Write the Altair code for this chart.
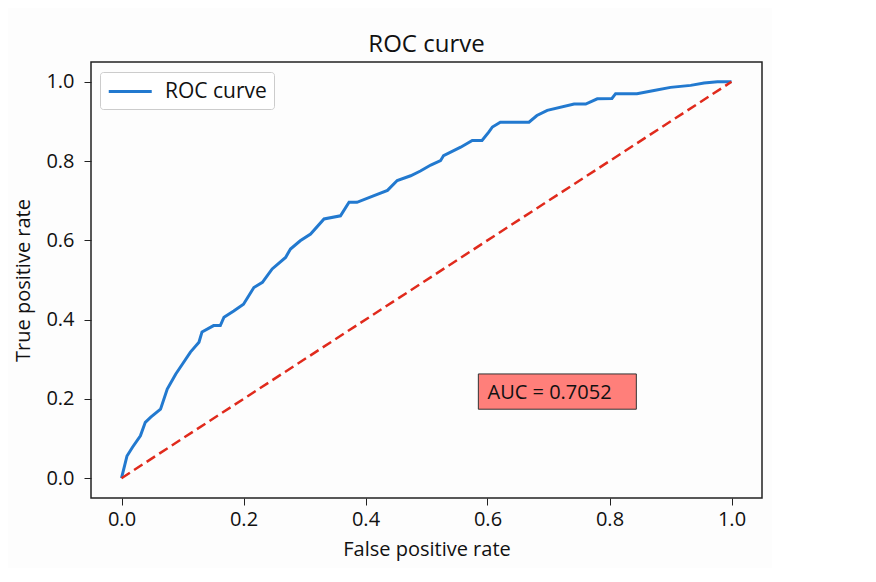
import altair as alt
import pandas as pd

# ROC curve points
fpr = [0, 0.009, 0.018, 0.031, 0.039, 0.048, 0.064, 0.075, 0.089, 0.100,
       0.113, 0.127, 0.132, 0.151, 0.162, 0.168, 0.184, 0.200, 0.217, 0.231,
       0.247, 0.269, 0.277, 0.293, 0.310, 0.332, 0.359, 0.373, 0.386, 0.414,
       0.436, 0.452, 0.474, 0.490, 0.507, 0.523, 0.528, 0.556, 0.575, 0.591,
       0.602, 0.608, 0.621, 0.668, 0.681, 0.698, 0.742, 0.761, 0.780, 0.804,
       0.810, 0.845, 0.873, 0.900, 0.933, 0.955, 0.977, 1.0]
tpr = [0, 0.056, 0.078, 0.107, 0.141, 0.154, 0.174, 0.225, 0.263, 0.288,
       0.318, 0.343, 0.369, 0.385, 0.385, 0.406, 0.422, 0.439, 0.481, 0.494,
       0.528, 0.557, 0.578, 0.599, 0.616, 0.654, 0.662, 0.696, 0.696, 0.713,
       0.726, 0.751, 0.763, 0.775, 0.790, 0.801, 0.814, 0.835, 0.852, 0.852,
       0.873, 0.886, 0.898, 0.898, 0.915, 0.928, 0.944, 0.944, 0.957, 0.958,
       0.970, 0.970, 0.978, 0.986, 0.991, 0.997, 1.0, 1.0]
series_name = "ROC curve"

diag_x = [0.0, 1.0]
diag_y = [0.0, 1.0]

auc_label = "AUC = 0.7052"
auc_pos = [0.6, 0.2]
auc_box_x = [0.585, 0.844]
auc_box_y = [0.174, 0.263]

tick_values = [0.0, 0.2, 0.4, 0.6, 0.8, 1.0]

FONT = "Open Sans"
BLUE = "#2279cf"
RED = "#e02a1c"

roc_df = pd.DataFrame({"fpr": fpr, "tpr": tpr, "order": list(range(len(fpr))),
                       "series": [series_name] * len(fpr)})
diag_df = pd.DataFrame({"fpr": diag_x, "tpr": diag_y})
box_df = pd.DataFrame({"x": [auc_box_x[0]], "x2": [auc_box_x[1]],
                       "y": [auc_box_y[0]], "y2": [auc_box_y[1]]})
txt_df = pd.DataFrame({"x": [auc_pos[0]], "y": [auc_pos[1]], "t": [auc_label]})

xscale = alt.Scale(domain=[-0.05, 1.05], nice=False, zero=False)
yscale = alt.Scale(domain=[-0.05, 1.05], nice=False, zero=False)

xaxis = alt.Axis(title="False positive rate", values=tick_values, format=".1f",
                 grid=False, domain=False, tickSize=7, tickColor="#222",
                 labelFontSize=20, labelFont=FONT, labelColor="#111",
                 labelPadding=4, titleFontSize=20, titleFont=FONT,
                 titleFontWeight="normal", titleColor="#111", titlePadding=10)
yaxis = alt.Axis(title="True positive rate", values=tick_values, format=".1f",
                 grid=False, domain=False, tickSize=7, tickColor="#222",
                 labelFontSize=20, labelFont=FONT, labelColor="#111",
                 labelPadding=10, titleFontSize=20, titleFont=FONT,
                 titleFontWeight="normal", titleColor="#111", titlePadding=12)

roc = alt.Chart(roc_df).mark_line(strokeWidth=3).encode(
    x=alt.X("fpr:Q", scale=xscale, axis=xaxis),
    y=alt.Y("tpr:Q", scale=yscale, axis=yaxis),
    order="order:Q",
    color=alt.Color("series:N",
                    scale=alt.Scale(domain=[series_name], range=[BLUE]),
                    legend=alt.Legend(title=None, orient="none", legendX=9, legendY=10,
                                      symbolType="M-1,0L3,0", symbolStrokeWidth=3,
                                      symbolSize=462, labelFontSize=21, labelFont=FONT,
                                      labelColor="#111", labelOffset=33,
                                      padding=7, strokeColor="#cccccc",
                                      fillColor="white", cornerRadius=3)),
)

diag = alt.Chart(diag_df).mark_line(strokeWidth=2.5, strokeDash=[10, 5], color=RED).encode(
    x=alt.X("fpr:Q", scale=xscale),
    y=alt.Y("tpr:Q", scale=yscale),
)

box = alt.Chart(box_df).mark_rect(fill="#ff7f7a", stroke="#333", strokeWidth=1).encode(
    x=alt.X("x:Q", scale=xscale), x2="x2:Q",
    y=alt.Y("y:Q", scale=yscale), y2="y2:Q",
)

txt = alt.Chart(txt_df).mark_text(align="left", baseline="alphabetic", fontSize=20,
                                  font=FONT, color="#111").encode(
    x=alt.X("x:Q", scale=xscale),
    y=alt.Y("y:Q", scale=yscale),
    text="t:N",
)

chart = alt.layer(roc, diag, box, txt).properties(
    width=671, height=436,
    title=alt.Title("ROC curve", fontSize=24, font=FONT, fontWeight="normal",
                    color="#111", anchor="middle", offset=5),
    autosize=alt.AutoSizeParams(type="none"),
    padding={"left": 83, "top": 54, "right": 10, "bottom": 70},
).configure(
    background="#fdfdfd",
    view=alt.ViewConfig(stroke="#222", strokeWidth=1.5),
)

chart.save("out.html", embed_options={"renderer": "svg", "actions": False})
